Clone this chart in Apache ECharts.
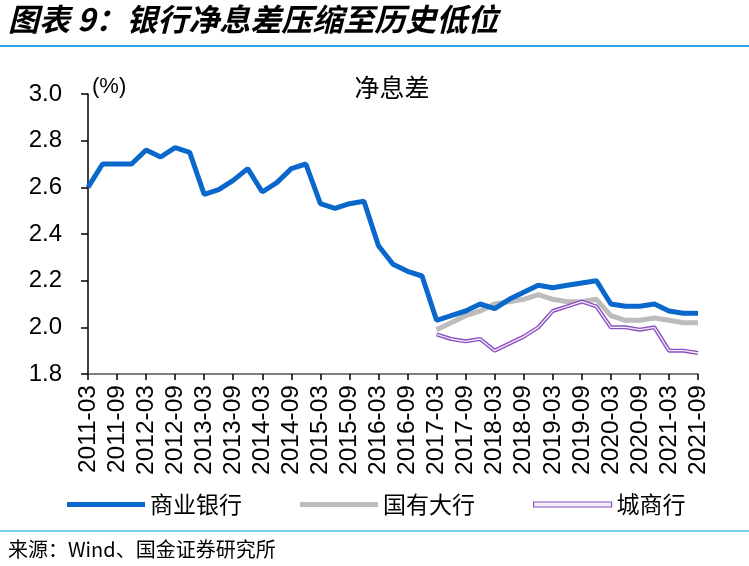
<!DOCTYPE html>
<html>
<head>
<meta charset="utf-8">
<script src="https://cdn.jsdelivr.net/npm/echarts@6/dist/echarts.min.js"></script>
<style>
html,body{margin:0;padding:0;background:#fff;}
#c{width:749px;height:566px;}
</style>
</head>
<body>
<div id="c"></div>
<script>
var categories = [
 "2011-03","2011-06","2011-09","2011-12",
 "2012-03","2012-06","2012-09","2012-12",
 "2013-03","2013-06","2013-09","2013-12",
 "2014-03","2014-06","2014-09","2014-12",
 "2015-03","2015-06","2015-09","2015-12",
 "2016-03","2016-06","2016-09","2016-12",
 "2017-03","2017-06","2017-09","2017-12",
 "2018-03","2018-06","2018-09","2018-12",
 "2019-03","2019-06","2019-09","2019-12",
 "2020-03","2020-06","2020-09","2020-12",
 "2021-03","2021-06","2021-09"
];
var commercialBanks = [
 2.60,2.70,2.70,2.70,
 2.76,2.73,2.77,2.75,
 2.57,2.59,2.63,2.68,
 2.58,2.62,2.68,2.70,
 2.53,2.51,2.53,2.54,
 2.35,2.27,2.24,2.22,
 2.03,2.05,2.07,2.10,
 2.08,2.12,2.15,2.18,
 2.17,2.18,2.19,2.20,
 2.10,2.09,2.09,2.10,
 2.07,2.06,2.06
];
var largeStateBanks = [
 null,null,null,null,null,null,null,null,null,null,null,null,
 null,null,null,null,null,null,null,null,null,null,null,null,
 1.99,2.02,2.05,2.07,
 2.10,2.11,2.12,2.14,
 2.12,2.11,2.11,2.12,
 2.05,2.03,2.03,2.04,
 2.03,2.02,2.02
];
var cityBanks = [
 null,null,null,null,null,null,null,null,null,null,null,null,
 null,null,null,null,null,null,null,null,null,null,null,null,
 1.97,1.95,1.94,1.95,
 1.90,1.93,1.96,2.00,
 2.07,2.09,2.11,2.09,
 2.00,2.00,1.99,2.00,
 1.90,1.90,1.89
];
var yTicks = {min:1.8, max:3.0, interval:0.2};
var seriesNames = ["商业银行","国有大行","城商行"];

var chart = echarts.init(document.getElementById('c'));
var numFont = '"Liberation Sans", Arial, sans-serif';
var cjkFont = '"Noto Sans CJK SC", sans-serif';
chart.setOption({
  backgroundColor:'#fff',
  animation:false,
  title:{
    text:'净息差', left:387, top:70, textAlign:'center',
    textStyle:{fontFamily:cjkFont, fontSize:25, fontWeight:'normal', color:'#000'}
  },
  graphic:[
    {type:'text', left:8, top:4, style:{text:'图表 9：银行净息差压缩至历史低位', font:'italic bold 31px "Noto Sans CJK SC", sans-serif', fill:'#000'}},
    {type:'line', shape:{x1:0,y1:46,x2:749,y2:46}, style:{stroke:'#2aa6e2', lineWidth:2}},
    {type:'line', shape:{x1:0,y1:531,x2:749,y2:531}, style:{stroke:'#7cd0f0', lineWidth:2}},
    {type:'text', left:8, top:539, style:{text:'来源：Wind、国金证券研究所', font:'20px "Noto Sans CJK SC", sans-serif', fill:'#000'}},
    {type:'text', left:92, top:76, style:{text:'(%)', font:'22px "Liberation Sans", Arial, sans-serif', fill:'#000'}}
  ],
  legend:{
    left:62, top:488, itemWidth:78, itemHeight:5, itemGap:58,
    textStyle:{fontFamily:cjkFont, fontSize:23, color:'#000'},
    data:[
      {name:seriesNames[0], icon:'rect', itemStyle:{color:'#0a68cc', borderWidth:0}},
      {name:seriesNames[1], icon:'rect', itemStyle:{color:'#bcbcbc', borderWidth:0}},
      {name:seriesNames[2], icon:'rect', itemStyle:{color:'#f3ecf9', borderColor:'#8a4fc0', borderWidth:1.2}}
    ]
  },
  grid:{left:88, right:51, top:94, bottom:192, containLabel:false},
  xAxis:{
    type:'category', data:categories, boundaryGap:false,
    axisLine:{lineStyle:{color:'#555', width:1.5}},
    axisTick:{show:true, interval:1, length:6, lineStyle:{color:'#000', width:1.5}},
    axisLabel:{interval:1, rotate:90, margin:11, fontFamily:numFont, fontSize:24.5, color:'#000'},
    splitLine:{show:false}
  },
  yAxis:{
    type:'value', min:yTicks.min, max:yTicks.max, interval:yTicks.interval,
    axisLine:{show:true, lineStyle:{color:'#000', width:1.5}},
    axisTick:{show:true, length:7, lineStyle:{color:'#000', width:1.5}},
    axisLabel:{margin:26, fontFamily:numFont, fontSize:24, color:'#000', formatter:function(v){return v.toFixed(1);}},
    splitLine:{show:false}
  },
  series:[
    {name:seriesNames[1], type:'line', data:largeStateBanks, symbol:'none', z:2,
     lineStyle:{color:'#bcbcbc', width:5}, itemStyle:{color:'#bcbcbc'}},
    {name:seriesNames[2], type:'line', data:cityBanks, symbol:'none', z:3,
     lineStyle:{color:'#8a4fc0', width:4}, itemStyle:{color:'#8a4fc0'}},
    {name:'城商行内线', type:'line', data:cityBanks, symbol:'none', z:4, silent:true,
     lineStyle:{color:'#f3ecf9', width:1.3}, itemStyle:{color:'#f3ecf9'}},
    {name:seriesNames[0], type:'line', data:commercialBanks, symbol:'none', z:5,
     lineStyle:{color:'#0a68cc', width:5}, itemStyle:{color:'#0a68cc'}}
  ]
});
</script>
</body>
</html>
